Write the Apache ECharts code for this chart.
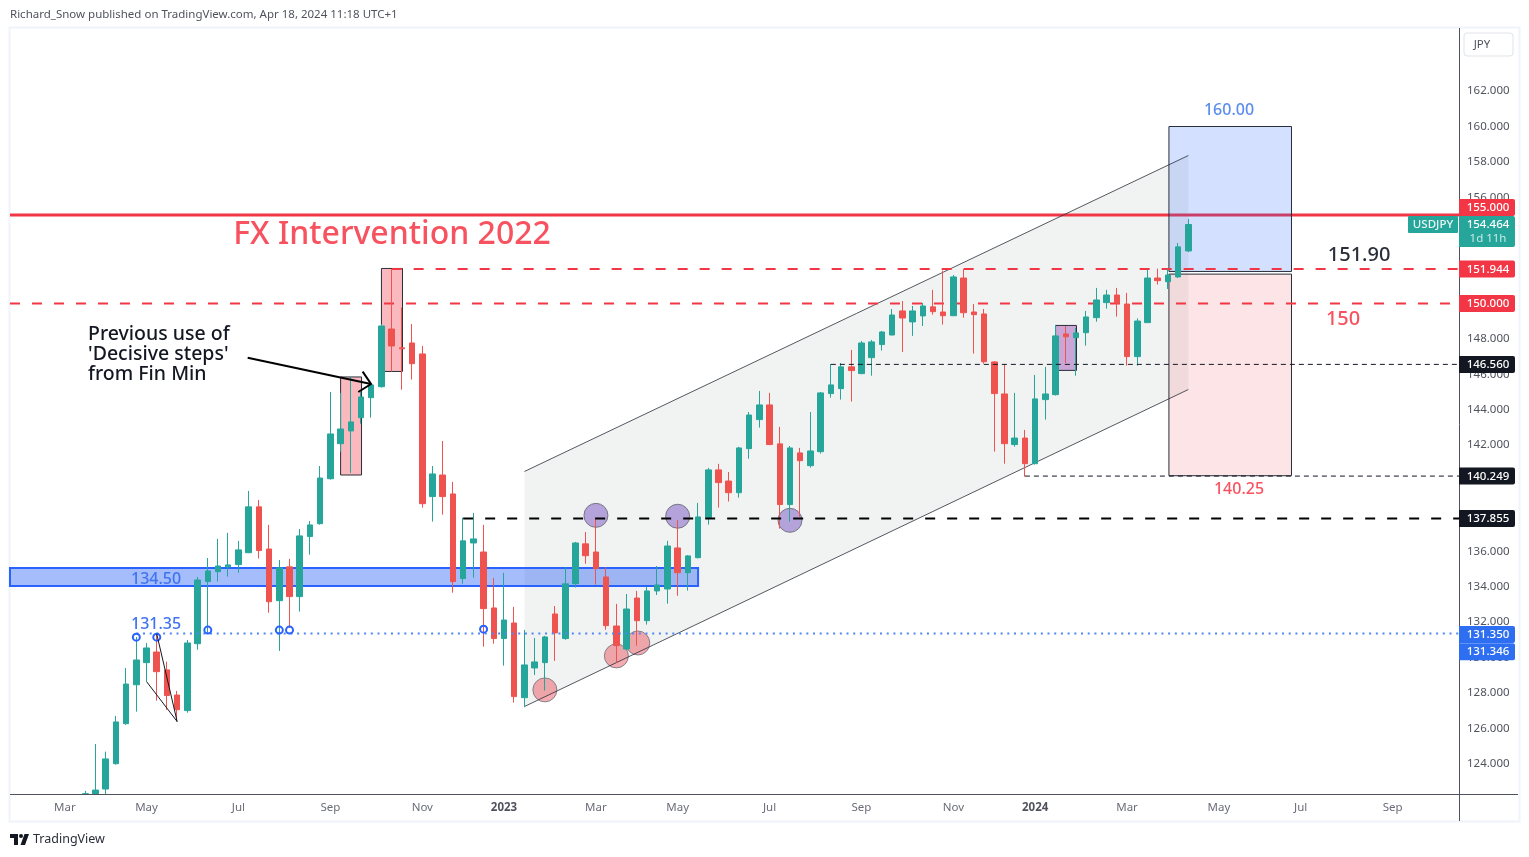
<!DOCTYPE html>
<html>
<head>
<meta charset="utf-8">
<title>USDJPY weekly</title>
<script src="https://cdn.jsdelivr.net/npm/echarts@6/dist/echarts.min.js"></script>
<style>
  html, body { margin: 0; padding: 0; background: #fff; }
  #chart { width: 1529px; height: 857px; }
</style>
</head>
<body>
<div id="chart"></div>
<script>
// weekly bars, x axis runs past the last candle like the TradingView screenshot
const weeks = [
  '2022-01-31','2022-02-07','2022-02-14','2022-02-21','2022-02-28','2022-03-07','2022-03-14','2022-03-21','2022-03-28',
  '2022-04-04','2022-04-11','2022-04-18','2022-04-25','2022-05-02','2022-05-09','2022-05-16','2022-05-23','2022-05-30',
  '2022-06-06','2022-06-13','2022-06-20','2022-06-27','2022-07-04','2022-07-11','2022-07-18','2022-07-25',
  '2022-08-01','2022-08-08','2022-08-15','2022-08-22','2022-08-29','2022-09-05','2022-09-12','2022-09-19','2022-09-26',
  '2022-10-03','2022-10-10','2022-10-17','2022-10-24','2022-10-31','2022-11-07','2022-11-14','2022-11-21','2022-11-28',
  '2022-12-05','2022-12-12','2022-12-19','2022-12-26','2023-01-02','2023-01-09','2023-01-16','2023-01-23','2023-01-30',
  '2023-02-06','2023-02-13','2023-02-20','2023-02-27','2023-03-06','2023-03-13','2023-03-20','2023-03-27',
  '2023-04-03','2023-04-10','2023-04-17','2023-04-24','2023-05-01','2023-05-08','2023-05-15','2023-05-22','2023-05-29',
  '2023-06-05','2023-06-12','2023-06-19','2023-06-26','2023-07-03','2023-07-10','2023-07-17','2023-07-24','2023-07-31',
  '2023-08-07','2023-08-14','2023-08-21','2023-08-28','2023-09-04','2023-09-11','2023-09-18','2023-09-25',
  '2023-10-02','2023-10-09','2023-10-16','2023-10-23','2023-10-30','2023-11-06','2023-11-13','2023-11-20','2023-11-27',
  '2023-12-04','2023-12-11','2023-12-18','2023-12-25','2024-01-01','2024-01-08','2024-01-15','2024-01-22','2024-01-29',
  '2024-02-05','2024-02-12','2024-02-19','2024-02-26','2024-03-04','2024-03-11','2024-03-18','2024-03-25',
  '2024-04-01','2024-04-08','2024-04-15','2024-04-22','2024-04-29','2024-05-06','2024-05-13','2024-05-20','2024-05-27',
  '2024-06-03','2024-06-10','2024-06-17','2024-06-24','2024-07-01','2024-07-08','2024-07-15','2024-07-22','2024-07-29',
  '2024-08-05','2024-08-12','2024-08-19','2024-08-26','2024-09-02','2024-09-09','2024-09-16','2024-09-23','2024-09-30',
  '2024-10-07','2024-10-14'
];
const firstCandleWeek = '2022-03-21';

// open, close, low, high. The first bars run off the bottom of the picture, only the visible part is read
const candles = [
  [122.29,122.3,122.29,122.46],[122.29,122.51,122.29,125.11],[122.57,124.27,122.29,124.68],[124.0,126.36,123.95,126.7],
  [126.26,128.5,126.2,129.41],[128.46,129.86,126.94,131.16],[129.71,130.54,128.64,130.82],[130.31,129.2,127.56,131.33],
  [129.3,127.85,127.04,129.77],[127.88,127.05,126.38,128.11],[127.0,130.82,126.88,130.99],[130.78,134.38,130.44,134.55],
  [134.29,134.89,131.39,135.62],[134.85,135.17,134.29,136.7],[135.12,135.23,134.57,137.04],[135.25,136.08,134.79,136.59],
  [135.92,138.51,135.9,139.41],[138.51,136.04,135.59,138.9],[136.13,133.15,132.53,137.49],[133.21,135.06,130.37,135.51],
  [135.12,133.44,131.67,135.57],[133.44,136.87,132.59,137.26],[136.83,137.49,135.81,137.71],[137.56,140.14,137.5,140.82],
  [140.1,142.63,140.05,145.0],[142.08,142.91,141.63,144.95],[142.8,143.31,140.43,145.87],[143.55,144.72,143.21,145.0],
  [144.68,145.4,143.55,145.42],[145.3,148.73,145.25,148.84],[148.56,147.6,146.15,151.95],[147.5,147.44,145.13,149.77],
  [147.77,146.6,145.7,148.84],[147.15,138.69,138.47,147.6],[139.09,140.37,137.68,140.82],[140.31,139.09,138.07,142.23],
  [139.24,134.29,133.66,139.92],[134.46,136.59,134.17,137.9],[136.47,136.7,134.51,138.17],[135.96,132.76,130.61,137.49],
  [132.8,131.07,130.78,134.49],[131.07,132.12,129.54,134.78],[131.95,127.79,127.45,132.86],[127.73,129.58,127.19,131.56],
  [129.41,129.75,129.01,131.1],[129.71,131.16,128.13,131.22],[132.46,131.39,129.81,132.91],[131.07,134.16,131.0,135.1],
  [134.17,136.47,133.95,136.53],[136.42,135.75,135.3,137.09],[135.96,135.02,134.12,137.9],[134.55,131.8,131.57,135.1],
  [131.78,130.67,129.71,133.03],[130.48,132.74,130.4,133.59],[133.36,132.08,130.67,133.76],[132.08,133.76,131.86,134.0],
  [133.76,134.1,133.53,135.17],[133.87,136.3,133.04,136.59],[136.19,134.79,133.49,137.77],[134.79,135.74,133.78,135.78],
  [135.64,137.94,135.6,138.73],[137.9,140.6,137.51,140.71],[140.6,139.88,138.47,140.94],[139.97,139.31,138.81,140.48],
  [139.31,141.84,139.03,141.9],[141.8,143.7,141.23,143.87],[143.44,144.27,142.99,145.06],[144.27,142.03,142.0,144.95],
  [142.07,138.64,137.28,143.03],[138.64,141.84,137.68,141.95],[141.56,141.12,137.96,141.84],[140.84,141.67,140.73,143.87],
  [141.63,144.95,141.52,145.0],[144.91,145.4,144.68,146.58],[145.19,146.42,144.57,146.64],[146.42,146.21,144.46,147.38],
  [146.04,147.77,146.0,147.88],[146.94,147.83,145.92,147.94],[147.68,148.39,147.34,148.45],[148.22,149.35,148.2,149.69],
  [149.58,149.18,147.26,150.14],[148.96,149.58,148.17,149.86],[149.3,149.86,148.73,150.03],[149.81,149.54,149.37,150.77],
  [149.52,149.31,148.81,151.86],[149.31,151.5,149.3,151.61],[151.44,149.48,149.2,151.95],[149.52,149.37,147.17,149.97],
  [149.41,146.71,146.6,149.69],[146.7,144.91,141.63,146.75],[144.89,142.08,140.95,146.58],[142.03,142.4,141.91,144.95],
  [142.4,140.95,140.22,142.86],[140.95,144.61,140.9,145.96],[144.57,144.89,143.44,146.42],[144.85,148.17,144.8,148.79],
  [148.28,148.12,146.64,148.73],[148.07,148.34,145.92,148.62],[148.35,149.24,147.62,149.58],[149.2,150.2,148.97,150.88],
  [150.05,150.48,149.71,150.77],[150.48,150.03,149.26,150.88],[149.97,147.0,146.49,150.6],[147.0,149.01,146.49,149.16],
  [148.92,151.44,148.9,151.9],[151.44,151.29,151.07,151.97],[151.23,151.61,150.82,151.95],[151.5,153.2,151.45,153.42],
  [152.97,154.464,152.9,154.78]
];

// tick labels
const monthWeeks = ['2022-03-07','2022-05-02','2022-07-04','2022-09-05','2022-11-07','2023-01-02','2023-03-06','2023-05-01',
  '2023-07-03','2023-09-04','2023-11-06','2024-01-01','2024-03-04','2024-05-06','2024-07-01','2024-09-02'];
const monthLabels = ['Mar','May','Jul','Sep','Nov','2023','Mar','May','Jul','Sep','Nov','2024','Mar','May','Jul','Sep'];
const priceTicks = [124,126,128,130,132,134,136,138,140,142,144,146,148,150,152,154,156,158,160,162];

// drawings, x in week numbers (index into weeks), y in price
const channel = [[50,140.51],[115,158.36],[115,145.14],[50,127.23]];
const targetBox = [113.1,125.1,160,151.81];
const stopBox = [113.1,125.1,151.66,140.27];
const pinkBoxes = [[32,34.05,145.85,140.31],[36,38.06,151.98,146.16]];
const purpleBox = [102,104.05,148.76,146.22];
const zoneBand = [-0.37,67,135.06,134.04];
const pinkCircles = [[52,128.17],[59,130.09],[61.1,130.82]];
const purpleCircles = [[57,138.03],[65,137.98],[76,137.75]];
const touchMarks = [[12,131.15],[14,131.15],[19,131.55],[26,131.55],[27,131.55],[46,131.6]];
const wedge = [[13,128.64],[16,126.38],[14,131.33]];
const arrowLine = [[22.9,146.94],[34.98,145.45]];
const arrowHead = [[34.16,146.15],[34.98,145.45],[33.73,145.0]];
const lineEnd = 141.5;
const level155 = [-0.37,155];
const level151 = [37,151.944];
const level150 = [-0.37,150];
const level146 = [80,146.56];
const level140 = [99,140.249];
const level137 = [44,137.855];
const level131 = [12,131.35];

// text notes: text, week number, price
const notes = [
  ['FX Intervention 2022',37.03,153.87],
  ['Previous use of',7.27,148.28],
  ["'Decisive steps'",7.27,147.15],
  ['from Fin Min',7.27,146.02],
  ['160.00',118.98,160.93],
  ['151.90',131.72,152.74],
  ['150',130.15,149.12],
  ['140.25',119.96,139.52],
  ['134.50',13.93,134.43],
  ['131.35',13.93,131.84]
];

// price tags on the right scale
const tagLabels = ['155.000','151.944','150.000','146.560','140.249','137.855','131.350','131.346'];
const tagPrices = [155.42,151.944,150,146.56,140.249,137.855,131.3,130.33];
const lastPrice = 154.464;

const FONT = '"Noto Sans", sans-serif';
const RED = '#f23645', GREEN = '#26a69a', BLUE = '#2962ff', INK = '#2a2e39';
const noteStyles = [
  { font: '500 32px ' + FONT, fill: '#f7525f', align: 'center' },
  { font: '500 19.5px ' + FONT, fill: '#131722', align: 'left' },
  { font: '500 19.5px ' + FONT, fill: '#131722', align: 'left' },
  { font: '500 19.5px ' + FONT, fill: '#131722', align: 'left' },
  { font: '500 16px ' + FONT, fill: '#5b8def', align: 'center' },
  { font: '500 20px ' + FONT, fill: INK, align: 'center' },
  { font: '500 20px ' + FONT, fill: '#f7525f', align: 'center' },
  { font: '500 16px ' + FONT, fill: '#f7525f', align: 'center' },
  { font: '500 16px ' + FONT, fill: '#3f73f0', align: 'center' },
  { font: '500 16px ' + FONT, fill: '#3f73f0', align: 'center' }
];
const tagColors = [RED,RED,RED,'#131722','#131722','#131722','#2e6ff2','#2e6ff2'];

function boxEl(api, b, style) {
  const a = api.coord([b[0], b[2]]), c = api.coord([b[1], b[3]]);
  return { type: 'rect', shape: { x: a[0], y: a[1], width: c[0] - a[0], height: c[1] - a[1] }, style: style };
}
function levelEl(api, lv, stroke, width, dash) {
  const a = api.coord(lv), b = api.coord([lineEnd, lv[1]]);
  return { type: 'line', shape: { x1: a[0], y1: a[1], x2: b[0], y2: b[1] }, style: { stroke: stroke, lineWidth: width, lineDash: dash } };
}
function circleEl(api, p, r, style) {
  const c = api.coord(p);
  return { type: 'circle', shape: { cx: c[0], cy: c[1], r: r }, style: style };
}

// everything sitting under the candles
function drawBehind(params, api) {
  const ch = channel.map(p => api.coord(p));
  const kids = [];
  kids.push({ type: 'polygon', shape: { points: ch }, style: { fill: 'rgba(120,135,125,0.1)' } });
  kids.push(levelEl(api, level155, RED, 3));
  kids.push(boxEl(api, targetBox, { fill: 'rgba(41,98,255,0.2)', stroke: INK, lineWidth: 1 }));
  kids.push(boxEl(api, stopBox, { fill: 'rgba(242,54,69,0.13)', stroke: INK, lineWidth: 1 }));
  kids.push(boxEl(api, zoneBand, { fill: 'rgba(41,98,245,0.42)', stroke: BLUE, lineWidth: 2 }));
  pinkBoxes.forEach(b => kids.push(boxEl(api, b, { fill: 'rgba(242,54,69,0.35)', stroke: INK, lineWidth: 1 })));
  kids.push(boxEl(api, purpleBox, { fill: 'rgba(156,70,180,0.45)', stroke: INK, lineWidth: 1 }));
  pinkCircles.forEach(p => kids.push(circleEl(api, p, 12, { fill: 'rgba(232,80,92,0.48)', stroke: 'rgba(110,110,120,0.8)', lineWidth: 1 })));
  purpleCircles.forEach(p => kids.push(circleEl(api, p, 12, { fill: '#b4a2da', stroke: 'rgba(110,110,120,0.9)', lineWidth: 1 })));
  [[ch[0], ch[1]], [ch[3], ch[2]]].forEach(s => kids.push({
    type: 'line', shape: { x1: s[0][0], y1: s[0][1], x2: s[1][0], y2: s[1][1] }, style: { stroke: 'rgba(42,46,57,0.8)', lineWidth: 1 }
  }));
  kids.push(levelEl(api, level150, RED, 2, [10, 12]));
  kids.push(levelEl(api, level151, RED, 2, [10, 12]));
  return { type: 'group', children: kids };
}

// lines, text and price tags on top of the candles
function drawAbove(params, api) {
  const kids = [];
  kids.push(levelEl(api, level146, '#131722', 1, [5, 4]));
  kids.push(levelEl(api, level140, '#131722', 1, [5, 4]));
  kids.push(levelEl(api, level137, '#000', 2, [10, 12]));
  kids.push(levelEl(api, level131, '#4f86f7', 2, [2, 4.7]));
  touchMarks.forEach(p => kids.push(circleEl(api, p, 3.5, { fill: 'rgba(0,0,0,0)', stroke: BLUE, lineWidth: 2 })));
  kids.push({ type: 'polyline', shape: { points: wedge.map(p => api.coord(p)) }, style: { stroke: '#131722', lineWidth: 1, fill: null } });
  kids.push({ type: 'polyline', shape: { points: arrowLine.map(p => api.coord(p)) }, style: { stroke: '#000', lineWidth: 2, fill: null } });
  kids.push({ type: 'polyline', shape: { points: arrowHead.map(p => api.coord(p)) }, style: { stroke: '#000', lineWidth: 2, fill: null } });

  notes.forEach((n, i) => {
    const c = api.coord([n[1], n[2]]), st = noteStyles[i];
    kids.push({ type: 'text', style: { text: n[0], x: c[0], y: c[1], font: st.font, fill: st.fill, align: st.align, verticalAlign: 'middle' } });
  });

  const right = api.coord([lineEnd, 150])[0];
  tagLabels.forEach((t, i) => {
    const y = api.coord([lineEnd, tagPrices[i]])[1];
    kids.push({ type: 'rect', shape: { x: right, y: y - 8.5, width: 56, height: 17, r: [0, 2, 2, 0] }, style: { fill: tagColors[i] } });
    kids.push({ type: 'text', style: { text: t, x: right + 29, y: y + 0.5, font: '500 11.5px ' + FONT, fill: '#fff', align: 'center', verticalAlign: 'middle' } });
  });

  const ly = api.coord([lineEnd, lastPrice])[1];
  kids.push({ type: 'rect', shape: { x: right, y: ly - 8.5, width: 56, height: 31, r: [0, 2, 2, 0] }, style: { fill: GREEN } });
  kids.push({ type: 'text', style: { text: lastPrice.toFixed(3), x: right + 29, y: ly + 0.5, font: '500 11.5px ' + FONT, fill: '#fff', align: 'center', verticalAlign: 'middle' } });
  kids.push({ type: 'text', style: { text: '1d 11h', x: right + 29, y: ly + 14.5, font: '11.5px ' + FONT, fill: 'rgba(255,255,255,0.75)', align: 'center', verticalAlign: 'middle' } });
  kids.push({ type: 'rect', shape: { x: right - 51, y: ly - 8.5, width: 50, height: 17, r: 1 }, style: { fill: GREEN } });
  kids.push({ type: 'text', style: { text: 'USDJPY', x: right - 26, y: ly + 0.5, font: '500 11.5px ' + FONT, fill: 'rgba(255,255,255,0.9)', align: 'center', verticalAlign: 'middle' } });
  return { type: 'group', children: kids };
}

const myChart = echarts.init(document.getElementById('chart'));
const firstIdx = weeks.indexOf(firstCandleWeek);

const option = {
  animation: false,
  backgroundColor: '#fff',
  grid: { left: 8.65, right: 70, top: 28, bottom: 63, outerBoundsMode: 'none' },
  xAxis: [
    {
      type: 'category',
      data: weeks,
      boundaryGap: true,
      axisLine: { show: false },
      axisTick: { show: false },
      splitLine: { show: false },
      axisLabel: {
        margin: 8,
        color: '#6a6d78',
        fontFamily: FONT,
        fontSize: 11.5,
        interval: (i, v) => monthWeeks.includes(v),
        formatter: v => {
          const t = monthLabels[monthWeeks.indexOf(v)];
          return /^\d+$/.test(t) ? '{yr|' + t + '}' : t;
        },
        rich: { yr: { fontFamily: FONT, fontSize: 11.5, fontWeight: 700, color: '#50535e' } }
      }
    },
    { type: 'value', show: false, min: -0.5, max: 141.5, splitLine: { show: false } }
  ],
  yAxis: {
    type: 'value',
    position: 'right',
    min: 122.288,
    max: 165.565,
    axisLine: { show: false },
    axisTick: { show: false },
    splitLine: { show: false },
    axisLabel: {
      customValues: priceTicks,
      margin: 8,
      padding: [2, 0, 0, 0],
      color: '#50535e',
      fontFamily: FONT,
      fontSize: 11.5,
      formatter: v => v.toFixed(3)
    }
  },
  series: [
    { type: 'custom', name: 'drawings', xAxisIndex: 1, z: 1, silent: true, data: [[0, 130]], renderItem: drawBehind },
    {
      type: 'candlestick',
      name: 'USDJPY',
      xAxisIndex: 0,
      z: 3,
      barWidth: 6,
      data: weeks.map((w, i) => candles[i - firstIdx] || '-'),
      itemStyle: { color: GREEN, color0: '#ef5350', borderColor: GREEN, borderColor0: '#ef5350', borderWidth: 1 }
    },
    { type: 'custom', name: 'notes', xAxisIndex: 1, z: 5, silent: true, data: [[0, 130]], renderItem: drawAbove }
  ],
  graphic: [
    { type: 'rect', shape: { x: 9.5, y: 27.5, width: 1510, height: 794 }, style: { fill: 'none', stroke: '#f0f3fa', lineWidth: 2 }, z: 0 },
    { type: 'line', shape: { x1: 10, y1: 794.5, x2: 1518, y2: 794.5 }, style: { stroke: '#50535e', lineWidth: 1 }, z: 4 },
    { type: 'line', shape: { x1: 1459.5, y1: 28, x2: 1459.5, y2: 821 }, style: { stroke: '#50535e', lineWidth: 1 }, z: 4 },
    { type: 'text', style: { text: 'Richard_Snow published on TradingView.com, Apr 18, 2024 11:18 UTC+1', x: 10, y: 15, font: '11.5px ' + FONT, fill: '#50535e', verticalAlign: 'middle' } },
    { type: 'rect', shape: { x: 1464, y: 33, width: 49, height: 23, r: 3 }, style: { fill: '#fff', stroke: '#e0e3eb', lineWidth: 1 } },
    { type: 'text', style: { text: 'JPY', x: 1482, y: 45, font: '11.5px ' + FONT, fill: '#50535e', align: 'center', verticalAlign: 'middle' } },
    { type: 'polygon', shape: { points: [[10, 834], [18, 834], [18, 845], [14, 845], [14, 838], [10, 838]] }, style: { fill: '#131722' } },
    { type: 'circle', shape: { cx: 21, cy: 836, r: 2 }, style: { fill: '#131722' } },
    { type: 'polygon', shape: { points: [[24.5, 834], [29, 834], [25, 845], [20.5, 845]] }, style: { fill: '#131722' } },
    { type: 'text', style: { text: 'TradingView', x: 33, y: 839.5, font: '12.5px ' + FONT, fill: '#2a2e39', verticalAlign: 'middle' } }
  ]
};

myChart.setOption(option);
</script>
</body>
</html>
